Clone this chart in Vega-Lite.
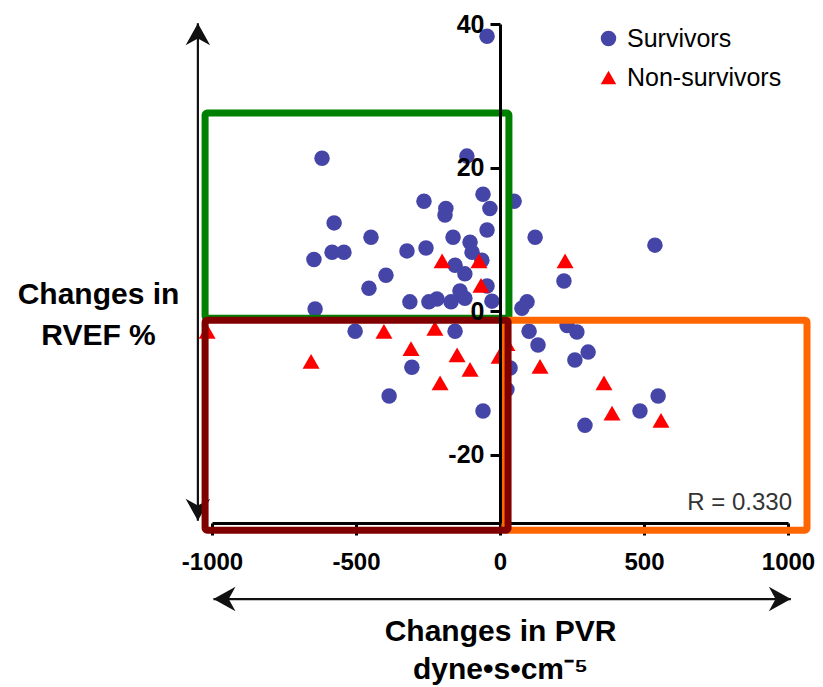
{
  "$schema": "https://vega.github.io/schema/vega-lite/v6.json",
  "width": 576,
  "height": 499,
  "autosize": {"type": "none"},
  "padding": {"left": 212, "top": 24, "right": 35, "bottom": 164},
  "background": "white",
  "config": {
    "view": {"stroke": null},
    "font": "Liberation Sans"
  },
  "resolve": {"scale": {"size": "independent"}},
  "datasets": {
    "patients": [
      {"pvr": -45, "rvef": 38.3, "group": "Survivors"},
      {"pvr": -618, "rvef": 21.3, "group": "Survivors"},
      {"pvr": -115, "rvef": 21.6, "group": "Survivors"},
      {"pvr": -59, "rvef": 16.3, "group": "Survivors"},
      {"pvr": -35, "rvef": 14.3, "group": "Survivors"},
      {"pvr": -264, "rvef": 15.3, "group": "Survivors"},
      {"pvr": -188, "rvef": 14.3, "group": "Survivors"},
      {"pvr": -191, "rvef": 13.4, "group": "Survivors"},
      {"pvr": -576, "rvef": 12.3, "group": "Survivors"},
      {"pvr": -45, "rvef": 11.3, "group": "Survivors"},
      {"pvr": -448, "rvef": 10.3, "group": "Survivors"},
      {"pvr": -583, "rvef": 8.2, "group": "Survivors"},
      {"pvr": -542, "rvef": 8.2, "group": "Survivors"},
      {"pvr": -646, "rvef": 7.2, "group": "Survivors"},
      {"pvr": -323, "rvef": 8.4, "group": "Survivors"},
      {"pvr": -257, "rvef": 8.8, "group": "Survivors"},
      {"pvr": -163, "rvef": 10.3, "group": "Survivors"},
      {"pvr": -104, "rvef": 9.6, "group": "Survivors"},
      {"pvr": -97, "rvef": 8.2, "group": "Survivors"},
      {"pvr": -63, "rvef": 7.1, "group": "Survivors"},
      {"pvr": -156, "rvef": 6.4, "group": "Survivors"},
      {"pvr": -122, "rvef": 5.2, "group": "Survivors"},
      {"pvr": -396, "rvef": 5.0, "group": "Survivors"},
      {"pvr": -455, "rvef": 3.2, "group": "Survivors"},
      {"pvr": -45, "rvef": 3.5, "group": "Survivors"},
      {"pvr": -139, "rvef": 2.8, "group": "Survivors"},
      {"pvr": -313, "rvef": 1.3, "group": "Survivors"},
      {"pvr": -247, "rvef": 1.3, "group": "Survivors"},
      {"pvr": -219, "rvef": 1.7, "group": "Survivors"},
      {"pvr": -170, "rvef": 1.3, "group": "Survivors"},
      {"pvr": -122, "rvef": 1.8, "group": "Survivors"},
      {"pvr": -28, "rvef": 1.4, "group": "Survivors"},
      {"pvr": -642, "rvef": 0.3, "group": "Survivors"},
      {"pvr": 49, "rvef": 15.3, "group": "Survivors"},
      {"pvr": 122, "rvef": 10.3, "group": "Survivors"},
      {"pvr": 538, "rvef": 9.2, "group": "Survivors"},
      {"pvr": 222, "rvef": 4.2, "group": "Survivors"},
      {"pvr": 94, "rvef": 1.3, "group": "Survivors"},
      {"pvr": 76, "rvef": 0.4, "group": "Survivors"},
      {"pvr": 101, "rvef": -2.8, "group": "Survivors"},
      {"pvr": 233, "rvef": -2.0, "group": "Survivors"},
      {"pvr": 267, "rvef": -2.9, "group": "Survivors"},
      {"pvr": 132, "rvef": -4.7, "group": "Survivors"},
      {"pvr": 306, "rvef": -5.7, "group": "Survivors"},
      {"pvr": 260, "rvef": -6.8, "group": "Survivors"},
      {"pvr": 549, "rvef": -11.8, "group": "Survivors"},
      {"pvr": 486, "rvef": -13.9, "group": "Survivors"},
      {"pvr": 295, "rvef": -15.9, "group": "Survivors"},
      {"pvr": 35, "rvef": -7.9, "group": "Survivors"},
      {"pvr": 24, "rvef": -10.9, "group": "Survivors"},
      {"pvr": -503, "rvef": -2.8, "group": "Survivors"},
      {"pvr": -156, "rvef": -2.8, "group": "Survivors"},
      {"pvr": -306, "rvef": -7.8, "group": "Survivors"},
      {"pvr": -385, "rvef": -11.8, "group": "Survivors"},
      {"pvr": -59, "rvef": -13.9, "group": "Survivors"},
      {"pvr": -201, "rvef": 7.0, "group": "Non-survivors"},
      {"pvr": -73, "rvef": 7.0, "group": "Non-survivors"},
      {"pvr": -66, "rvef": 3.6, "group": "Non-survivors"},
      {"pvr": -1017, "rvef": -2.8, "group": "Non-survivors"},
      {"pvr": -656, "rvef": -7.0, "group": "Non-survivors"},
      {"pvr": -403, "rvef": -2.8, "group": "Non-survivors"},
      {"pvr": -226, "rvef": -2.4, "group": "Non-survivors"},
      {"pvr": -309, "rvef": -5.2, "group": "Non-survivors"},
      {"pvr": -149, "rvef": -6.1, "group": "Non-survivors"},
      {"pvr": -104, "rvef": -8.1, "group": "Non-survivors"},
      {"pvr": -208, "rvef": -10.0, "group": "Non-survivors"},
      {"pvr": 24, "rvef": -4.5, "group": "Non-survivors"},
      {"pvr": -3, "rvef": -6.3, "group": "Non-survivors"},
      {"pvr": 226, "rvef": 7.0, "group": "Non-survivors"},
      {"pvr": 139, "rvef": -7.7, "group": "Non-survivors"},
      {"pvr": 361, "rvef": -10.0, "group": "Non-survivors"},
      {"pvr": 389, "rvef": -14.2, "group": "Non-survivors"},
      {"pvr": 559, "rvef": -15.2, "group": "Non-survivors"}
    ],
    "zones": [
      {"zone": "upper-left", "x": -1024, "x2": 31, "y": 27.6, "y2": -1.0},
      {"zone": "lower-right", "x": 17, "x2": 1066, "y": -1.25, "y2": -30.5},
      {"zone": "lower-left", "x": -1024, "x2": 28, "y": -1.25, "y2": -30.5}
    ],
    "arrowLines": [
      {"x": -995, "x2": 1010, "y": -40.1, "y2": -40.1},
      {"x": -1049, "x2": -1049, "y": 40.1, "y2": -29.2}
    ],
    "arrowHeads": [
      {"x": -995, "y": -40.1, "bearing": 270},
      {"x": 1010, "y": -40.1, "bearing": 90},
      {"x": -1049, "y": 40.1, "bearing": 0},
      {"x": -1049, "y": -29.2, "bearing": 180}
    ],
    "notes": [
      {"label": "R = 0.330", "x": 1014, "y": -26.7}
    ]
  },
  "layer": [
    {
      "mark": {"type": "rule", "strokeDash": [3, 2], "strokeWidth": 1.5, "color": "#333333"},
      "encoding": {
        "x": {"datum": -1000, "type": "quantitative", "scale": {"domain": [-1000, 1000], "nice": false, "zero": false}},
        "x2": {"datum": 1000},
        "y": {"datum": 0, "type": "quantitative", "scale": {"domain": [-29.5, 40], "nice": false, "zero": false}}
      }
    },
    {
      "data": {"name": "arrowLines"},
      "mark": {"type": "rule", "strokeWidth": 2.2, "color": "#111111"},
      "encoding": {
        "x": {"field": "x", "type": "quantitative"},
        "x2": {"field": "x2"},
        "y": {"field": "y", "type": "quantitative"},
        "y2": {"field": "y2"}
      }
    },
    {
      "data": {"name": "arrowHeads"},
      "mark": {"type": "point", "filled": true, "color": "#111111", "size": 600, "opacity": 1, "shape": "M0,0L1,1.8L0,1.25L-1,1.8Z"},
      "encoding": {
        "x": {"field": "x", "type": "quantitative"},
        "y": {"field": "y", "type": "quantitative"},
        "angle": {"field": "bearing", "type": "quantitative", "scale": {"domain": [0, 360], "range": [0, 360]}}
      }
    },
    {
      "data": {"name": "patients"},
      "mark": {"type": "point", "filled": true, "opacity": 1},
      "encoding": {
        "x": {
          "field": "pvr",
          "type": "quantitative",
          "axis": {
            "values": [-1000, -500, 0, 500, 1000],
            "labelExpr": "'' + datum.value",
            "grid": false,
            "domainColor": "black",
            "domainWidth": 3,
            "tickColor": "black",
            "tickWidth": 3,
            "tickSize": 12,
            "labelPadding": 15,
            "labelFont": "Liberation Sans",
            "labelFontSize": 24,
            "labelFontWeight": "bold",
            "labelColor": "black",
            "labelFlush": false,
            "labelOverlap": false,
            "title": ["Changes in PVR", "dyne•s•cm⁻⁵"],
            "titleFont": "Liberation Sans",
            "titleFontSize": 30,
            "titleFontWeight": "bold",
            "titleColor": "black",
            "titleX": 288,
            "titleY": 117,
            "titleAlign": "center",
            "titleBaseline": "alphabetic",
            "titleLineHeight": 38
          }
        },
        "y": {
          "field": "rvef",
          "type": "quantitative",
          "axis": {
            "orient": "left",
            "offset": -288,
            "values": [-20, 0, 20, 40],
            "labelExpr": "'' + datum.value",
            "grid": false,
            "domainColor": "black",
            "domainWidth": 3,
            "tickColor": "black",
            "tickWidth": 3,
            "tickSize": 10,
            "labelPadding": 6,
            "labelFont": "Liberation Sans",
            "labelFontSize": 25,
            "labelFontWeight": "bold",
            "labelColor": "black",
            "labelFlush": false,
            "labelOverlap": false,
            "title": ["Changes in", "RVEF %"],
            "titleFont": "Liberation Sans",
            "titleFontSize": 30,
            "titleFontWeight": "bold",
            "titleColor": "black",
            "titleAngle": 0,
            "titleX": -402,
            "titleY": 279,
            "titleAlign": "center",
            "titleBaseline": "alphabetic",
            "titleLineHeight": 41,
            "zindex": 1
          }
        },
        "color": {
          "field": "group",
          "type": "nominal",
          "scale": {"domain": ["Survivors", "Non-survivors"], "range": ["#4545A8", "#FF0000"]},
          "legend": {
            "title": null,
            "orient": "none",
            "legendX": 384,
            "legendY": 2,
            "padding": 0,
            "labelFont": "Liberation Sans",
            "labelFontSize": 25,
            "labelColor": "black",
            "symbolSize": 240,
            "symbolStrokeWidth": 0,
            "labelOffset": 6,
            "rowPadding": 13
          }
        },
        "shape": {
          "field": "group",
          "type": "nominal",
          "scale": {"domain": ["Survivors", "Non-survivors"], "range": ["circle", "triangle-up"]}
        },
        "size": {
          "field": "group",
          "type": "ordinal",
          "scale": {"domain": ["Survivors", "Non-survivors"], "range": [240, 290]},
          "legend": null
        }
      }
    },
    {
      "data": {"name": "zones"},
      "mark": {"type": "rect", "filled": false, "strokeWidth": 7, "strokeJoin": "round", "cornerRadius": 2},
      "encoding": {
        "x": {"field": "x", "type": "quantitative"},
        "x2": {"field": "x2"},
        "y": {"field": "y", "type": "quantitative"},
        "y2": {"field": "y2"},
        "stroke": {
          "field": "zone",
          "type": "nominal",
          "scale": {"domain": ["upper-left", "lower-right", "lower-left"], "range": ["#008000", "#FF6600", "#800000"]},
          "legend": null
        }
      }
    },
    {
      "data": {"name": "notes"},
      "mark": {"type": "text", "align": "right", "baseline": "middle", "fontSize": 24, "font": "Liberation Sans", "color": "#333333"},
      "encoding": {
        "x": {"field": "x", "type": "quantitative"},
        "y": {"field": "y", "type": "quantitative"},
        "text": {"field": "label"}
      }
    }
  ]
}
